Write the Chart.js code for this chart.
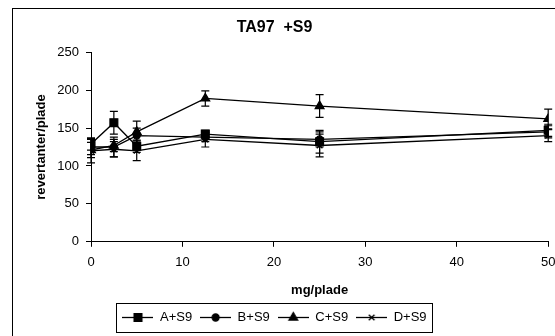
<!DOCTYPE html>
<html>
<head>
<meta charset="utf-8">
<script src="https://cdn.jsdelivr.net/npm/chart.js@4"></script>
<style>
html,body{margin:0;padding:0;background:#fff;}
#wrap{width:555px;height:336px;position:relative;}
</style>
</head>
<body>
<div id="wrap"><canvas id="c" width="555" height="336"></canvas></div>
<script>
const doses = [0, 2.5, 5, 12.5, 25, 50];
const seriesNames = ['A+S9', 'B+S9', 'C+S9', 'D+S9'];
const valuesA = [129, 157, 126, 142, 132, 147];
const valuesB = [125, 125, 140, 138, 135, 145];
const valuesC = [121, 127, 145, 189, 179, 162];
const valuesD = [120, 122, 120, 135, 127, 140];
const errA = [8, 15, 8, 5, 15, 8];
const errB = [10, 13, 10, 6, 10, 8];
const errC = [10, 8, 14, 10, 15, 13];
const errD = [16, 10, 13, 10, 15, 8];
const xTicks = [0, 10, 20, 30, 40, 50];
const yTicks = [0, 50, 100, 150, 200, 250];

const FONT = "'Liberation Sans', Arial, sans-serif";
const styles = [
  {pointStyle: 'rect', radius: 5.5},
  {pointStyle: 'circle', radius: 3.5},
  {pointStyle: 'triangle', radius: 5},
  {pointStyle: 'crossRot', radius: 4}
];
const allValues = [valuesA, valuesB, valuesC, valuesD];
const allErr = [errA, errB, errC, errD];

function legendIcon(style, radius) {
  const cv = document.createElement('canvas');
  cv.width = 31; cv.height = 13;
  const ctx = cv.getContext('2d');
  ctx.strokeStyle = '#000'; ctx.lineWidth = 1.3;
  ctx.beginPath(); ctx.moveTo(0, 6.5); ctx.lineTo(31, 6.5); ctx.stroke();
  ctx.fillStyle = '#000';
  Chart.helpers.drawPoint(ctx, {pointStyle: style, rotation: 0, radius: radius, borderWidth: 1.3}, 15.5, 6.5);
  return cv;
}

const datasets = allValues.map((vals, i) => ({
  label: seriesNames[i],
  data: doses.map((d, j) => ({x: d, y: vals[j]})),
  borderColor: '#000',
  backgroundColor: '#000',
  borderWidth: 1.3,
  pointStyle: styles[i].pointStyle,
  pointRadius: styles[i].radius,
  pointBorderWidth: 1.3,
  pointBackgroundColor: '#000',
  pointBorderColor: '#000',
  fill: false,
  tension: 0,
  errors: allErr[i]
}));

const errorBars = {
  id: 'errorBars',
  afterDatasetsDraw(chart) {
    const ctx = chart.ctx;
    const xs = chart.scales.x, ys = chart.scales.y;
    ctx.save();
    ctx.strokeStyle = '#000'; ctx.lineWidth = 1.2;
    chart.data.datasets.forEach(ds => {
      ds.data.forEach((p, j) => {
        const e = ds.errors[j];
        const px = xs.getPixelForValue(p.x);
        const t = ys.getPixelForValue(p.y + e);
        const b = ys.getPixelForValue(p.y - e);
        ctx.beginPath();
        ctx.moveTo(px, t); ctx.lineTo(px, b);
        ctx.moveTo(px - 4, t); ctx.lineTo(px + 4, t);
        ctx.moveTo(px - 4, b); ctx.lineTo(px + 4, b);
        ctx.stroke();
      });
    });
    ctx.restore();
  }
};

const frame = {
  id: 'frame',
  afterDraw(chart) {
    const ctx = chart.ctx;
    ctx.save();
    ctx.strokeStyle = '#000'; ctx.lineWidth = 1;
    ctx.strokeRect(12.5, 8.5, 600, 400);
    const lg = chart.legend;
    if (lg && lg.legendHitBoxes && lg.legendHitBoxes.length) {
      let minX = Infinity, maxX = -Infinity, minY = Infinity, maxY = -Infinity;
      lg.legendHitBoxes.forEach(h => {
        minX = Math.min(minX, h.left); maxX = Math.max(maxX, h.left + h.width);
        minY = Math.min(minY, h.top); maxY = Math.max(maxY, h.top + h.height);
      });
      const cy = (minY + maxY) / 2;
      ctx.strokeRect(Math.round(minX - 6) + 0.5, Math.round(cy - 14.5) + 0.5, Math.round(maxX - minX + 12), 29);
    }
    ctx.restore();
  }
};

new Chart(document.getElementById('c'), {
  type: 'line',
  data: {datasets},
  options: {
    responsive: false,
    animation: false,
    devicePixelRatio: 1,
    layout: {padding: {left: 0, right: 6, top: 0, bottom: 2}},
    plugins: {
      title: {
        display: true, text: 'TA97  +S9', color: '#000',
        font: {family: FONT, size: 16, weight: 'bold'},
        padding: {top: 18, bottom: 15}
      },
      legend: {
        position: 'bottom',
        labels: {
          color: '#000',
          font: {family: FONT, size: 13},
          usePointStyle: true,
          pointStyleWidth: 31,
          padding: 8,
          generateLabels(chart) {
            return chart.data.datasets.map((ds, i) => ({
              text: ds.label,
              pointStyle: legendIcon(styles[i].pointStyle, styles[i].radius),
              fillStyle: '#000', strokeStyle: '#000', lineWidth: 0,
              fontColor: '#000', hidden: false, datasetIndex: i
            }));
          }
        }
      },
      tooltip: {enabled: false}
    },
    scales: {
      x: {
        type: 'linear', min: 0, max: 50,
        afterBuildTicks(s) { s.ticks = xTicks.map(v => ({value: v})); },
        afterFit(s) { s.paddingRight = 0; s.paddingLeft = 0; },
        grid: {display: true, drawOnChartArea: false, drawTicks: true, tickLength: 5, color: '#000', tickColor: '#000'},
        border: {display: true, color: '#000', width: 1},
        ticks: {color: '#000', font: {family: FONT, size: 13}, padding: 8, maxRotation: 0},
        title: {display: true, text: 'mg/plade', color: '#000', font: {family: FONT, size: 13, weight: 'bold'}, padding: {top: 4, bottom: 5}}
      },
      y: {
        type: 'linear', min: 0, max: 250,
        afterBuildTicks(s) { s.ticks = yTicks.map(v => ({value: v})); },
        afterFit(s) { s.width = 91; },
        grid: {display: true, drawOnChartArea: false, drawTicks: true, tickLength: 5, color: '#000', tickColor: '#000'},
        border: {display: true, color: '#000', width: 1},
        ticks: {color: '#000', font: {family: FONT, size: 13}, padding: 7},
        title: {display: true, text: 'revertanter/plade', color: '#000', font: {family: FONT, size: 13, weight: 'bold'}, padding: {top: 34, bottom: 0}}
      }
    }
  },
  plugins: [errorBars, frame]
});
</script>
</body>
</html>
